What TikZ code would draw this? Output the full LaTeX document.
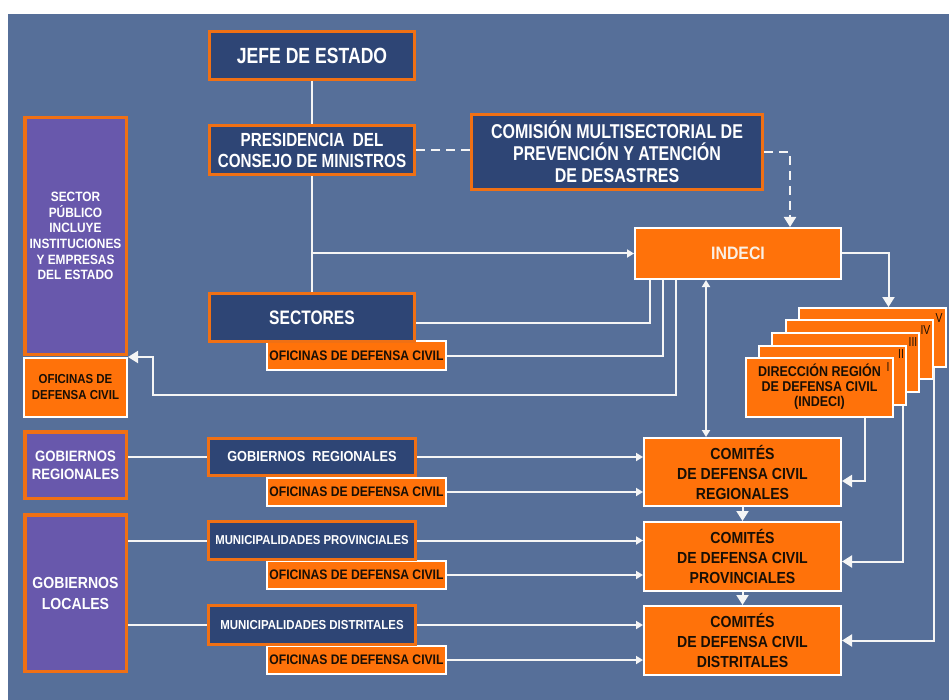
\documentclass[tikz,border=0pt]{standalone}
\usepackage{fontspec}
\newfontfamily\bigf[FakeStretch=0.8]{Liberation Sans}
\newfontfamily\smf[FakeStretch=0.88]{Liberation Sans}
\usetikzlibrary{arrows.meta,calc}
\definecolor{bgblue}{RGB}{86,111,153}
\definecolor{navy}{RGB}{46,69,117}
\definecolor{borderorange}{RGB}{240,112,20}
\definecolor{orangefill}{RGB}{255,114,10}
\definecolor{purplefill}{RGB}{104,88,172}
\definecolor{linewhite}{RGB}{245,245,245}
\definecolor{darktext}{RGB}{25,15,5}
\definecolor{indecitext}{RGB}{250,240,228}
\newcommand{\myfs}[2]{\fontsize{#1}{#2}\selectfont}
\tikzset{
  navybox/.style={draw=borderorange, line width=3pt, fill=navy, text=white, align=center, inner sep=0pt},
  purplebox/.style={draw=borderorange, line width=3.5pt, fill=purplefill, text=white, align=center, inner sep=0pt},
  orbox/.style={draw=white, line width=2pt, fill=orangefill, text=darktext, align=center, inner sep=0pt},
  stackbox/.style={orbox, minimum width=147pt, minimum height=59pt},
  numlabel/.style={text=darktext, font=\bigf\myfs{13}{14}, inner sep=0pt},
  conn/.style={draw=linewhite, line width=2pt},
  arr/.style={conn, -{Triangle[width=8pt,length=7pt]}},
  bigarr/.style={conn, -{Triangle[width=12pt,length=10pt]}},
  dblarr/.style={conn, {Triangle[width=8pt,length=7pt]}-{Triangle[width=8pt,length=7pt]}},
  dashconn/.style={conn, dash pattern=on 9pt off 6pt},
}
\begin{document}
\begin{tikzpicture}[x=1pt,y=-1pt]
\useasboundingbox (0,0) rectangle (949,700);
\fill[white] (0,0) rectangle (949,700);
\fill[bgblue] (8,14) rectangle (949,700);

% top chain
\node[navybox, minimum width=205pt, minimum height=48pt, font=\bigf\bfseries\myfs{22}{24}] (jefe) at (312,55.5) {JEFE DE ESTADO};
\node[navybox, minimum width=205pt, minimum height=49pt, font=\bigf\bfseries\myfs{19}{21}] (pcm) at (312,150) {PRESIDENCIA\ \ DEL\\CONSEJO DE MINISTROS};
\node[navybox, minimum width=291pt, minimum height=75pt, font=\bigf\bfseries\myfs{20}{22}] (cmpad) at (617,152) {COMISIÓN MULTISECTORIAL DE\\PREVENCIÓN Y ATENCIÓN\\DE DESASTRES};
\node[orbox, minimum width=206pt, minimum height=51pt, text=indecitext, font=\smf\bfseries\myfs{18}{20}] (indeci) at (738,253.5) {INDECI};

% sectores
\node[orbox, minimum width=179pt, minimum height=29pt, font=\smf\bfseries\myfs{13.8}{15}] (ofsect) at (356.5,355.5) {OFICINAS DE DEFENSA CIVIL};
\node[navybox, minimum width=205pt, minimum height=48pt, font=\bigf\bfseries\myfs{19.5}{21}] (sect) at (312,317.5) {SECTORES};

% sector publico
\node[orbox, minimum width=103pt, minimum height=59pt, font=\smf\bfseries\myfs{13}{16}] (ofsp) at (75.5,387.5) {OFICINAS DE\\DEFENSA CIVIL};
\node[purplebox, minimum width=101.5pt, minimum height=236.5pt, font=\smf\bfseries\myfs{13.5}{15.7}] (sp) at (75.5,236) {SECTOR\\PÚBLICO\\INCLUYE\\INSTITUCIONES\\Y EMPRESAS\\DEL ESTADO};

% gobiernos
\node[purplebox, minimum width=101.5pt, minimum height=66.5pt, font=\smf\bfseries\myfs{15}{18}] (grl) at (75.5,465) {GOBIERNOS\\REGIONALES};
\node[purplebox, minimum width=101.5pt, minimum height=156.5pt, font=\smf\bfseries\myfs{16}{21}] (gl) at (75.5,593) {GOBIERNOS\\LOCALES};

\node[orbox, minimum width=179pt, minimum height=28pt, font=\smf\bfseries\myfs{13.8}{15}] (ofgr) at (356.5,492) {OFICINAS DE DEFENSA CIVIL};
\node[navybox, minimum width=207pt, minimum height=37pt, font=\smf\bfseries\myfs{14.5}{16}] (grm) at (312,457) {GOBIERNOS\ \ REGIONALES};
\node[orbox, minimum width=179pt, minimum height=28pt, font=\smf\bfseries\myfs{13.8}{15}] (ofmp) at (356.5,575) {OFICINAS DE DEFENSA CIVIL};
\node[navybox, minimum width=207pt, minimum height=38pt, font=\smf\bfseries\myfs{12.9}{15}] (mp) at (312,540.5) {MUNICIPALIDADES PROVINCIALES};
\node[orbox, minimum width=179pt, minimum height=28pt, font=\smf\bfseries\myfs{13.8}{15}] (ofmd) at (356.5,660) {OFICINAS DE DEFENSA CIVIL};
\node[navybox, minimum width=207pt, minimum height=39pt, font=\smf\bfseries\myfs{13}{15}] (md) at (312,625) {MUNICIPALIDADES DISTRITALES};

% comites
\node[orbox, minimum width=197pt, minimum height=68pt, font=\smf\bfseries\myfs{16}{20}] (cr) at (742.5,472) {COMITÉS\\DE DEFENSA CIVIL\\REGIONALES};
\node[orbox, minimum width=197pt, minimum height=69pt, font=\smf\bfseries\myfs{16}{20}] (cp) at (742.5,556.5) {COMITÉS\\DE DEFENSA CIVIL\\PROVINCIALES};
\node[orbox, minimum width=197pt, minimum height=69pt, font=\smf\bfseries\myfs{16}{20}] (cd) at (742.5,640.5) {COMITÉS\\DE DEFENSA CIVIL\\DISTRITALES};

% stack of regional directions
\node[stackbox] (stV) at (872.5,337.5) {};
\node[numlabel] (nV) at ([xshift=-8pt,yshift=-11pt]stV.north east) {V};
\node[stackbox] (stIV) at (859,349.5) {};
\node[numlabel] (nIV) at ([xshift=-8pt,yshift=-11pt]stIV.north east) {IV};
\node[stackbox] (stIII) at (845.5,362.5) {};
\node[numlabel] (nIII) at ([xshift=-7pt,yshift=-10pt]stIII.north east) {III};
\node[stackbox] (stII) at (832.5,375) {};
\node[numlabel] (nII) at ([xshift=-6pt,yshift=-10pt]stII.north east) {II};
\node[stackbox, font=\smf\bfseries\myfs{14.2}{15}] (stI) at (819.5,387) {DIRECCIÓN REGIÓN\\DE DEFENSA CIVIL\\(INDECI)};
\node[numlabel] (nI) at ([xshift=-6pt,yshift=-11pt]stI.north east) {I};

% connectors
\draw[conn] (jefe.south) -- (pcm.north);
\draw[conn] (pcm.south) -- (sect.north);
\coordinate (br) at (pcm.south |- indeci.west);
\draw[arr] (br) -- (indeci.west);
\draw[dashconn] (pcm.east) -- (pcm.east -| cmpad.west);
\coordinate (dtgt) at ([xshift=52pt]indeci.north);
\draw[dashconn] (cmpad.east) -| ($(dtgt)+(0,-12)$);
\draw[bigarr] ($(dtgt)+(0,-12)$) -- (dtgt);
\coordinate (vtgt) at ([xshift=16pt]stV.north);
\draw[bigarr] (indeci.east) -| (vtgt);

\coordinate (s1) at ([xshift=16pt]indeci.south west);
\coordinate (s2) at ([xshift=29pt]indeci.south west);
\coordinate (s3) at ([xshift=42pt]indeci.south west);
\draw[conn] (s1) |- ($(sect.east)+(0,5)$);
\draw[conn] (s2) |- (ofsect.east);
\coordinate (c1) at (153,395);
\draw[bigarr] (s3) |- (c1) |- (ofsp.north east);

\coordinate (da) at ([xshift=-32pt]indeci.south);
\draw[dblarr] (da) -- (da |- cr.north);

\draw[conn] (grm.west -| grl.east) -- (grm.west);
\draw[arr] (grm.east) -- (grm.east -| cr.west);
\draw[arr] (ofgr.east) -- (ofgr.east -| cr.west);
\draw[conn] (mp.west -| gl.east) -- (mp.west);
\draw[arr] (mp.east) -- (mp.east -| cp.west);
\draw[arr] (ofmp.east) -- (ofmp.east -| cp.west);
\draw[conn] (md.west -| gl.east) -- (md.west);
\draw[arr] (md.east) -- (md.east -| cd.west);
\draw[arr] (ofmd.east) -- (ofmd.east -| cd.west);

\draw[bigarr] (cr.south) -- (cp.north);
\draw[bigarr] (cp.south) -- (cd.north);

\draw[bigarr] ([xshift=45pt]stI.south) |- ($(cr.east)+(0,9)$);
\draw[bigarr] ([xshift=70.5pt]stII.south) |- ($(cp.east)+(0,5)$);
\draw[bigarr] ([xshift=61.5pt]stV.south) |- (cd.east);
\end{tikzpicture}
\end{document}
